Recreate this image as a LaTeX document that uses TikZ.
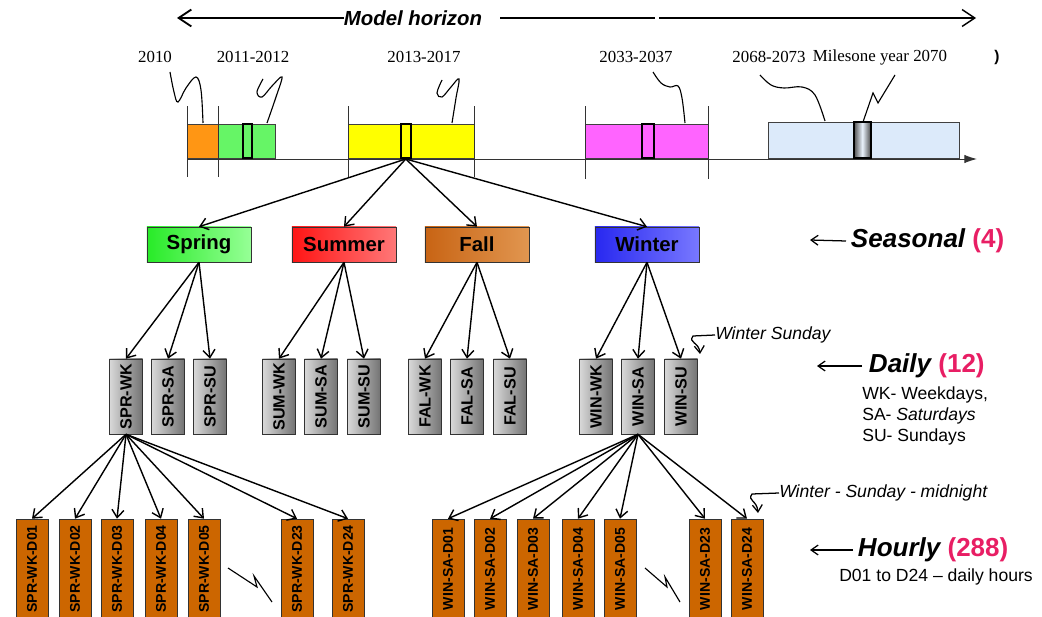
\documentclass[tikz,border=0pt]{standalone}
\usepackage{fontspec}
\usepackage{graphicx}
\setmainfont{Liberation Sans}
\newfontfamily\yearfont{Liberation Serif}
\usetikzlibrary{arrows.meta}

\definecolor{barorange}{RGB}{255,150,20}
\definecolor{bargreen}{RGB}{102,245,102}
\definecolor{baryellow}{RGB}{255,255,0}
\definecolor{barmagenta}{RGB}{255,100,255}
\definecolor{barblue}{RGB}{220,234,250}
\definecolor{springL}{RGB}{40,235,40}
\definecolor{springR}{RGB}{150,255,150}
\definecolor{summerL}{RGB}{255,20,20}
\definecolor{summerR}{RGB}{255,120,120}
\definecolor{fallL}{RGB}{200,100,20}
\definecolor{fallR}{RGB}{225,150,80}
\definecolor{winterL}{RGB}{40,40,240}
\definecolor{winterR}{RGB}{120,120,255}
\definecolor{hourfill}{RGB}{204,102,0}
\definecolor{countpink}{RGB}{232,30,100}

\begin{document}
\begin{tikzpicture}[x=0.025cm, y=-0.025cm,
	period/.style={draw=black!75, minimum height=0.85cm, inner sep=0pt, anchor=south west},
	midbar/.style={draw=black, line width=1.1pt, minimum height=0.85cm, inner sep=0pt, anchor=south west},
	year/.style={font=\yearfont\fontsize{12}{14}\selectfont},
	season/.style={draw=black!80, minimum width=2.6cm, minimum height=0.875cm, font=\bfseries\fontsize{14.5}{16}\selectfont},
	daybox/.style={draw=black!80, left color=black!15, right color=black!55, minimum width=0.825cm, minimum height=1.875cm, inner sep=0pt, font=\bfseries\fontsize{11.5}{13}\selectfont},
	hourbox/.style={draw=black!80, fill=hourfill, minimum width=0.8cm, minimum height=2.5cm, inner sep=0pt, font=\bfseries\fontsize{10}{12}\selectfont},
	branch/.style={-{Straight Barb[length=5.5pt,width=8.5pt]}, line width=1pt},
	pointer/.style={-{Straight Barb[length=5pt,width=7pt]}, line width=0.9pt},
	callout/.style={line width=0.8pt},
	scalelabel/.style={anchor=west, font=\bfseries\itshape\fontsize{18.5}{20}\selectfont},
	aside/.style={anchor=west, inner sep=0pt, font=\itshape\fontsize{12.5}{14}\selectfont}
]
	\useasboundingbox (0,0) rectangle (1042,617);
	\clip (0,0) rectangle (1042,617);

	% model horizon
	\draw (413,18) node[inner sep=0pt, font=\bfseries\itshape\fontsize{14.5}{16}\selectfont] (horizon) {Model horizon};
	\coordinate (hleft) at (177,18);
	\coordinate (hmid) at (655,18);
	\coordinate (hright) at (976,18);
	\draw[-{Straight Barb[length=9pt,width=12pt]}, line width=1.3pt] (horizon.west) -- (hleft);
	\draw[line width=2pt] ([xshift=0.45cm]horizon.east) -- (hmid);
	\draw[-{Straight Barb[length=9pt,width=12pt]}, line width=1pt] ([xshift=0.1cm]hmid) -- (hright);

	% time periods
	\draw (187,159) node[period, minimum width=0.775cm, fill=barorange] (p2010) {};
	\draw (218,159) node[period, minimum width=1.425cm, fill=bargreen] (p2011) {};
	\draw (242,159) node[midbar, minimum width=0.225cm, fill=bargreen] (m2011) {};
	\draw (348,159) node[period, minimum width=3.15cm, fill=baryellow] (p2013) {};
	\draw (400,159) node[midbar, minimum width=0.25cm, fill=baryellow] (m2013) {};
	\draw (585,159) node[period, minimum width=3.075cm, fill=barmagenta] (p2033) {};
	\draw (641,159) node[midbar, minimum width=0.3cm, fill=barmagenta] (m2033) {};
	\draw (768,159) node[period, minimum width=4.775cm, minimum height=0.9cm, fill=barblue] (p2068) {};
	\draw (853,159) node[midbar, minimum width=0.425cm, minimum height=0.9cm, left color=black!70, right color=black!70, middle color=barblue!60] (m2070) {};

	\coordinate (axisend) at (977,159);
	\draw[-{Latex[length=9pt,width=6pt]}, line width=0.7pt, black!80] (p2010.south west) -- (axisend);

	\draw[black!80] (p2010.north west) ++(0,-18) -- ++(0,71);
	\draw[black!80] (p2010.north east) ++(0,-18) -- ++(0,71);
	\draw[black!80] (p2013.north west) ++(0,-18) -- ++(0,71);
	\draw[black!80] (p2013.north east) ++(0,-18) -- ++(0,71);
	\draw[black!80] (p2033.north west) ++(0,-18) -- ++(0,73);
	\draw[black!80] (p2033.north east) ++(0,-18) -- ++(0,73);

	% years
	\draw (155,57) node[year] (y2010) {2010};
	\draw (253,57) node[year] (y2011) {2011-2012};
	\draw (424,57) node[year] (y2013) {2013-2017};
	\draw (636,57) node[year] (y2033) {2033-2037};
	\draw (769,57) node[year] (y2068) {2068-2073};
	\draw (880,57) node[year] (y2070) {Milesone year 2070};
	\draw (997,58) node[font=\bfseries\fontsize{11}{12}\selectfont] (stray) {)};

	\draw[callout] plot[smooth, tension=0.6] coordinates {(170,72) (174,92) (178,102) (186,88) (196,77) (201,90) (203,123)};
	\draw[callout] plot[smooth, tension=0.6] coordinates {(263,79) (257,92) (262,97) (272,86) (282,77) (276,97) (267,123)};
	\draw[callout] plot[smooth, tension=0.6] coordinates {(442,80) (437,93) (442,97) (451,87) (459,79) (456,98) (452,123)};
	\draw[callout] plot[smooth, tension=0.6] coordinates {(653,72) (661,83) (670,87) (678,86) (682,98) (685,123)};
	\draw[callout] plot[smooth, tension=0.6] coordinates {(760,75) (771,85) (784,88) (802,87) (815,95) (825,121)};
	\draw[callout] (895,75) -- (878,103) -- (873,93) -- (863,122);

	% seasons
	\draw (199,244.5) node[season, left color=springL, right color=springR] (spring) {Spring};
	\draw (344,244.5) node[season, left color=summerL, right color=summerR] (summer) {Summer};
	\draw (477,244.5) node[season, left color=fallL, right color=fallR] (fall) {Fall};
	\draw (647,244.5) node[season, left color=winterL, right color=winterR] (winter) {Winter};

	\draw[branch] (m2013.south) -- (spring.north);
	\draw[branch] (m2013.south) -- (summer.north);
	\draw[branch] (m2013.south) -- (fall.north);
	\draw[branch] (m2013.south) -- (winter.north);

	% days
	\draw (126,396.5) node[daybox] (sprwk) {\rotatebox{90}{SPR-WK}};
	\draw (168,396.5) node[daybox] (sprsa) {\rotatebox{90}{SPR-SA}};
	\draw (210,396.5) node[daybox] (sprsu) {\rotatebox{90}{SPR-SU}};
	\draw (279,396.5) node[daybox] (sumwk) {\rotatebox{90}{SUM-WK}};
	\draw (321,396.5) node[daybox] (sumsa) {\rotatebox{90}{SUM-SA}};
	\draw (364,396.5) node[daybox] (sumsu) {\rotatebox{90}{SUM-SU}};
	\draw (425,396.5) node[daybox] (falwk) {\rotatebox{90}{FAL-WK}};
	\draw (467,396.5) node[daybox] (falsa) {\rotatebox{90}{FAL-SA}};
	\draw (510,396.5) node[daybox] (falsu) {\rotatebox{90}{FAL-SU}};
	\draw (596,396.5) node[daybox] (winwk) {\rotatebox{90}{WIN-WK}};
	\draw (638,396.5) node[daybox] (winsa) {\rotatebox{90}{WIN-SA}};
	\draw (681,396.5) node[daybox] (winsu) {\rotatebox{90}{WIN-SU}};

	\draw[branch] (spring.south) -- (sprwk.north);
	\draw[branch] (spring.south) -- (sprsa.north);
	\draw[branch] (spring.south) -- (sprsu.north);
	\draw[branch] (summer.south) -- (sumwk.north);
	\draw[branch] (summer.south) -- (sumsa.north);
	\draw[branch] (summer.south) -- (sumsu.north);
	\draw[branch] (fall.south) -- (falwk.north);
	\draw[branch] (fall.south) -- (falsa.north);
	\draw[branch] (fall.south) -- (falsu.north);
	\draw[branch] (winter.south) -- (winwk.north);
	\draw[branch] (winter.south) -- (winsa.north);
	\draw[branch] (winter.south) -- (winsu.north);

	% hours
	\draw (32,569) node[hourbox] (sprh1) {\rotatebox{90}{SPR-WK-D01}};
	\draw (75,569) node[hourbox] (sprh2) {\rotatebox{90}{SPR-WK-D02}};
	\draw (117,569) node[hourbox] (sprh3) {\rotatebox{90}{SPR-WK-D03}};
	\draw (161,569) node[hourbox] (sprh4) {\rotatebox{90}{SPR-WK-D04}};
	\draw (204,569) node[hourbox] (sprh5) {\rotatebox{90}{SPR-WK-D05}};
	\draw (297,569) node[hourbox] (sprh23) {\rotatebox{90}{SPR-WK-D23}};
	\draw (348,569) node[hourbox] (sprh24) {\rotatebox{90}{SPR-WK-D24}};

	\draw (448,569) node[hourbox] (winh1) {\rotatebox{90}{WIN-SA-D01}};
	\draw (490,569) node[hourbox] (winh2) {\rotatebox{90}{WIN-SA-D02}};
	\draw (533,569) node[hourbox] (winh3) {\rotatebox{90}{WIN-SA-D03}};
	\draw (578,569) node[hourbox] (winh4) {\rotatebox{90}{WIN-SA-D04}};
	\draw (620,569) node[hourbox] (winh5) {\rotatebox{90}{WIN-SA-D05}};
	\draw (705,569) node[hourbox] (winh23) {\rotatebox{90}{WIN-SA-D23}};
	\draw (747,569) node[hourbox] (winh24) {\rotatebox{90}{WIN-SA-D24}};

	\draw[branch] (sprwk.south) -- (sprh1.north);
	\draw[branch] (sprwk.south) -- (sprh2.north);
	\draw[branch] (sprwk.south) -- (sprh3.north);
	\draw[branch] (sprwk.south) -- (sprh4.north);
	\draw[branch] (sprwk.south) -- (sprh5.north);
	\draw[branch] (sprwk.south) -- (sprh23.north);
	\draw[branch] (sprwk.south) -- (sprh24.north);
	\draw[branch] (winsa.south) -- (winh1.north);
	\draw[branch] (winsa.south) -- (winh2.north);
	\draw[branch] (winsa.south) -- (winh3.north);
	\draw[branch] (winsa.south) -- (winh4.north);
	\draw[branch] (winsa.south) -- (winh5.north);
	\draw[branch] (winsa.south) -- (winh23.north);
	\draw[branch] (winsa.south) -- (winh24.north);

	\draw[callout] (228,568) -- (257,587) -- (254,576) -- (272,602);
	\draw[callout] (645,568) -- (667,587) -- (665,577) -- (680,602);

	% side notes
	\draw (715,335) node[aside] (wsunday) {Winter Sunday};
	\coordinate (wsuntip) at (700,354);
	\draw[pointer] (wsunday.west) -- (693,336) .. controls (688,343) and (699,342) .. (wsuntip);

	\draw (779,493) node[aside] (wmidnight) {Winter - Sunday - midnight};
	\coordinate (midtip) at (758,513);
	\draw[pointer] (wmidnight.west) -- (752,494) .. controls (747,501) and (757,500) .. (midtip);

	\draw (846,241) node[scalelabel] (seasonal) {Seasonal \textcolor{countpink}{\upshape(4)}};
	\coordinate (seasontip) at (810,240);
	\draw[pointer] (seasonal.west) -- (seasontip);

	\draw (864,366) node[scalelabel] (daily) {Daily \textcolor{countpink}{\upshape(12)}};
	\coordinate (dailytip) at (817,366);
	\draw[pointer] ([xshift=-0.05cm]daily.west) -- (dailytip);

	\draw (853,550) node[scalelabel] (hourly) {Hourly \textcolor{countpink}{\upshape(288)}};
	\coordinate (hourlytip) at (810,550);
	\draw[pointer] (hourly.west) -- (hourlytip);

	\draw (862,386) node[anchor=north west, align=left, inner sep=0pt, font=\fontsize{12.5}{15}\selectfont] (daykey) {WK- Weekdays,\\SA- \textit{Saturdays}\\SU- Sundays};
	\draw (936,577) node[font=\fontsize{12.5}{14}\selectfont] (hourkey) {D01 to D24 – daily hours};
\end{tikzpicture}
\end{document}
